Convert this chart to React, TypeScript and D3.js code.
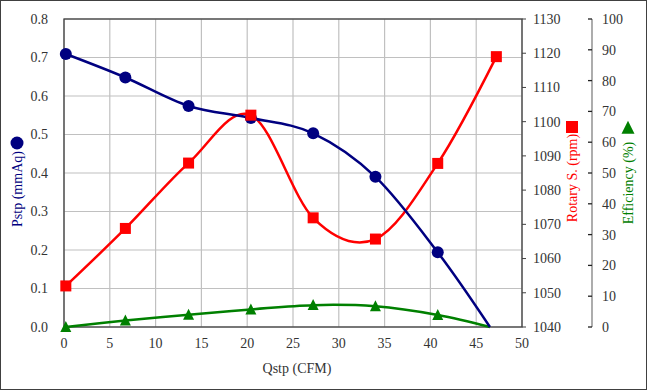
import * as d3 from 'd3';

// flow rate (CFM) for the measured points
const qstp = [0.2, 6.7, 13.6, 20.4, 27.2, 34.0, 40.8];
// static pressure, ends on zero at shut-off flow
const pstp = [0.709, 0.648, 0.574, 0.543, 0.503, 0.39, 0.194];
const pstpEnd = [46.5, 0];
// rotary speed, last reading at 47.2 CFM
const rpm = [1052, 1068.8, 1087.9, 1101.9, 1071.9, 1065.7, 1087.8];
const rpmEnd = [47.2, 1119];
// efficiency %
const eff = [0, 2.1, 4.0, 5.7, 7.1, 6.7, 3.9];
const effEnd = [46.5, 0];

const xTicks = [0, 5, 10, 15, 20, 25, 30, 35, 40, 45, 50];
const pTicks = [0, 0.1, 0.2, 0.3, 0.4, 0.5, 0.6, 0.7, 0.8];
const rpmTicks = [1040, 1050, 1060, 1070, 1080, 1090, 1100, 1110, 1120, 1130];
const effTicks = [0, 10, 20, 30, 40, 50, 60, 70, 80, 90, 100];

const W = 647;
const H = 390;
const plot = { left: 64, right: 522, top: 19, bottom: 327 };
const font = "'Liberation Serif', 'DejaVu Serif', serif";

const NAVY = '#000080';
const RED = '#FF0000';
const GREEN = '#008000';

export default function App() {
  const x = d3.scaleLinear().domain([0, 50]).range([plot.left, plot.right]);
  const yP = d3.scaleLinear().domain([0, 0.8]).range([plot.bottom, plot.top]);
  const yR = d3.scaleLinear().domain([1040, 1130]).range([plot.bottom, plot.top]);
  const yE = d3.scaleLinear().domain([0, 100]).range([plot.bottom, plot.top]);

  const pPts: [number, number][] = qstp.map((q, i) => [x(q), yP(pstp[i])]);
  pPts.push([x(pstpEnd[0]), yP(pstpEnd[1])]);
  const rPts: [number, number][] = qstp.map((q, i) => [x(q), yR(rpm[i])]);
  rPts.push([x(rpmEnd[0]), yR(rpmEnd[1])]);
  const ePts: [number, number][] = qstp.map((q, i) => [x(q), yE(eff[i])]);
  ePts.push([x(effEnd[0]), yE(effEnd[1])]);

  const line = d3.line().curve(d3.curveCardinal.tension(0));

  const effAxisX = 592;
  const tri = (cx: number, cy: number, s: number) =>
    `M${cx},${cy - s * 0.55}L${cx + s / 2},${cy + s * 0.45}L${cx - s / 2},${cy + s * 0.45}Z`;

  const txt = { fontFamily: font, fontSize: 14 };

  return (
    <svg
      width={W}
      height={H}
      style={{ position: 'absolute', left: 0, top: 0, background: '#fff' }}
    >
      <rect x={0.5} y={0.5} width={W - 1} height={H - 1} fill="#fff" stroke="#404040" />

      {/* grid */}
      {xTicks.map((t) => (
        <line key={'gx' + t} x1={x(t)} x2={x(t)} y1={plot.top} y2={plot.bottom} stroke="#c0c0c0" strokeWidth={1.2} />
      ))}
      {pTicks.map((t) => (
        <line key={'gy' + t} x1={plot.left} x2={plot.right} y1={yP(t)} y2={yP(t)} stroke="#c0c0c0" strokeWidth={1.2} />
      ))}
      <rect
        x={plot.left}
        y={plot.top}
        width={plot.right - plot.left}
        height={plot.bottom - plot.top}
        fill="none"
        stroke="#404040"
        strokeWidth={1.3}
      />

      {/* left axis labels */}
      {pTicks.map((t) => (
        <text key={'pl' + t} x={48} y={yP(t)} dy="0.35em" textAnchor="end" style={txt} fill="#333">
          {t.toFixed(1)}
        </text>
      ))}
      {/* x axis labels */}
      {xTicks.map((t) => (
        <text key={'xl' + t} x={x(t)} y={348} textAnchor="middle" style={txt} fill="#333">
          {t}
        </text>
      ))}
      {/* rpm axis */}
      {rpmTicks.map((t) => (
        <g key={'rl' + t}>
          <line x1={plot.right} x2={plot.right + 4} y1={yR(t)} y2={yR(t)} stroke="#404040" />
          <text x={533} y={yR(t)} dy="0.35em" style={txt} fill="#333">
            {t}
          </text>
        </g>
      ))}
      {/* efficiency axis */}
      <line x1={effAxisX} x2={effAxisX} y1={plot.top} y2={plot.bottom} stroke="#808080" strokeWidth={1.3} />
      {effTicks.map((t) => (
        <g key={'el' + t}>
          <line x1={effAxisX - 4} x2={effAxisX} y1={yE(t)} y2={yE(t)} stroke="#202020" strokeWidth={1.3} />
          <text x={602} y={yE(t)} dy="0.35em" style={txt} fill="#333">
            {t}
          </text>
        </g>
      ))}

      {/* series */}
      <path d={line(ePts) || ''} fill="none" stroke={GREEN} strokeWidth={2.5} />
      <path d={line(rPts) || ''} fill="none" stroke={RED} strokeWidth={2.5} />
      <path d={line(pPts) || ''} fill="none" stroke={NAVY} strokeWidth={2.5} />

      {ePts.slice(0, qstp.length).map((p, i) => (
        <path key={'em' + i} d={tri(p[0], p[1], 11)} fill={GREEN} />
      ))}
      {pPts.slice(0, qstp.length).map((p, i) => (
        <circle key={'pm' + i} cx={p[0]} cy={p[1]} r={6} fill={NAVY} />
      ))}
      {rPts.map((p, i) => (
        <rect key={'rm' + i} x={p[0] - 5.5} y={p[1] - 5.5} width={11} height={11} fill={RED} />
      ))}

      {/* axis titles */}
      <text x={297} y={373} textAnchor="middle" style={txt} fill="#333">
        Qstp (CFM)
      </text>
      <circle cx={17} cy={143} r={6.5} fill={NAVY} />
      <text transform="translate(22,189) rotate(-90)" textAnchor="middle" style={txt} fill={NAVY}>
        Pstp (mmAq)
      </text>
      <rect x={566} y={121} width={12} height={12} fill={RED} />
      <text transform="translate(577,178) rotate(-90)" textAnchor="middle" style={txt} fill={RED}>
        Rotary S. (rpm)
      </text>
      <path d={tri(628, 128, 13)} fill={GREEN} />
      <text transform="translate(633,183) rotate(-90)" textAnchor="middle" style={txt} fill={GREEN}>
        Efficiency (%)
      </text>
    </svg>
  );
}
